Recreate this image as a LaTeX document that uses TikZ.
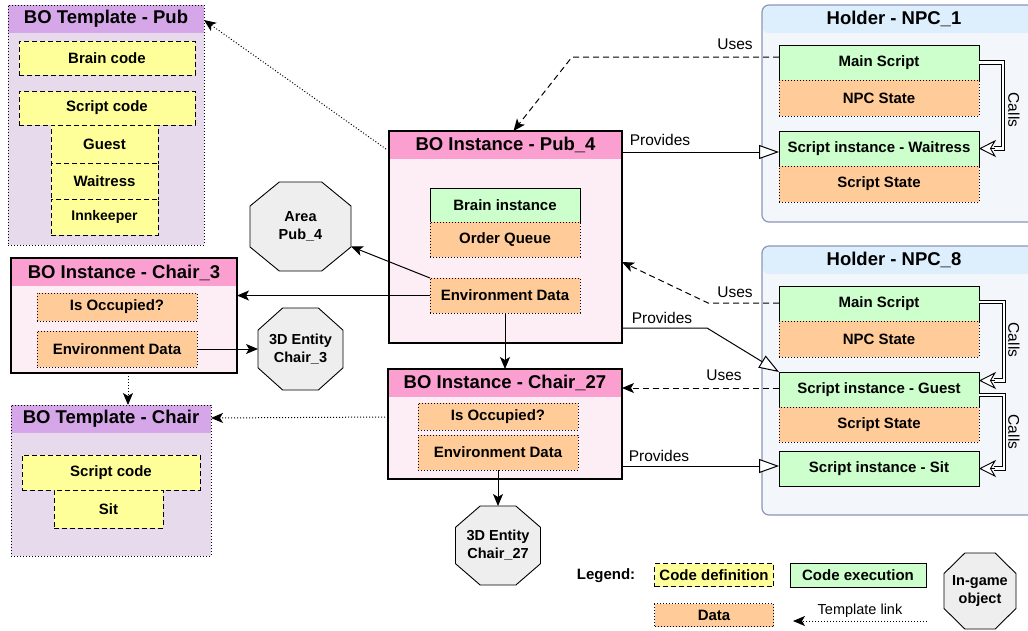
\documentclass[tikz,border=0pt]{standalone}
\usepackage{fontspec}
\setmainfont{Liberation Sans}
\usetikzlibrary{arrows.meta,calc}

\definecolor{tmplhead}{HTML}{D5A6E8}
\definecolor{tmplbody}{HTML}{E7DAEC}
\definecolor{insthead}{HTML}{FA9FD0}
\definecolor{instbody}{HTML}{FDEEF5}
\definecolor{holdhead}{HTML}{DDEEFD}
\definecolor{holdbody}{HTML}{F3F7FC}
\definecolor{holdline}{HTML}{8C96B8}
\definecolor{codefill}{HTML}{FFFF99}
\definecolor{execfill}{HTML}{CCFFCC}
\definecolor{datafill}{HTML}{FFCC99}
\definecolor{objfill}{HTML}{EEEEEE}

\tikzset{
  every node/.style={font=\fontsize{15}{17}\selectfont\bfseries, inner sep=0pt, outer sep=0pt},
  ttl/.style={font=\fontsize{18.5}{21}\selectfont\bfseries},
  lbl/.style={font=\fontsize{15.5}{18}\selectfont},
  codebox/.style={draw, fill=codefill, line width=1pt, dash pattern=on 5pt off 3pt, anchor=north west},
  execbox/.style={draw, fill=execfill, line width=1pt, anchor=north west},
  databox/.style={draw, fill=datafill, line width=1pt, dash pattern=on 1pt off 2pt, anchor=north west},
  tmplbox/.style={draw, fill=tmplbody, line width=1pt, dash pattern=on 1pt off 2pt, anchor=north west,
    path picture={\fill[tmplhead] (path picture bounding box.north west) rectangle ([yshift=-28pt]path picture bounding box.north east);}},
  instbox/.style={draw, fill=instbody, line width=2.5pt, anchor=north west,
    path picture={\fill[insthead] (path picture bounding box.north west) rectangle ([yshift=-28pt]path picture bounding box.north east);}},
  holdbox/.style={draw=holdline, fill=holdbody, line width=1.2pt, rounded corners=7pt, anchor=north west,
    path picture={\fill[holdhead] (path picture bounding box.north west) rectangle ([yshift=-28pt]path picture bounding box.north east);}},
  objline/.style={draw, fill=objfill, line width=0.9pt},
  objtext/.style={align=center, font=\fontsize{14.5}{18}\selectfont\bfseries},
  arr/.style={draw, line width=1pt, -{Stealth[length=12pt, width=10pt, inset=3pt]}},
  uses/.style={arr, dash pattern=on 6pt off 4pt},
  tlink/.style={arr, dash pattern=on 1pt off 2pt},
  provides/.style={draw, line width=1pt, -{Triangle[open, fill=white, length=20pt, width=14pt]}},
  calls/.style={draw, line width=0.9pt, double=white, double distance=2.6pt},
  callhead/.style={draw, line width=0.9pt, -{Stealth[open, fill=white, length=17pt, width=17pt, inset=5pt]}},
}

% octagonal in-game object: name, centre x, centre y, width, height, text
\newcommand\gameobject[6]{%
  \pgfmathsetmacro\gobjA{#4/2}\pgfmathsetmacro\gobjB{#5/2}%
  \pgfmathsetmacro\gobjC{#4/2-0.29*#4}\pgfmathsetmacro\gobjD{#5/2-0.27*#5}%
  \draw[objline] (#2-\gobjC,#3-\gobjB) -- (#2+\gobjC,#3-\gobjB) -- (#2+\gobjA,#3-\gobjD)
    -- (#2+\gobjA,#3+\gobjD) -- (#2+\gobjC,#3+\gobjB) -- (#2-\gobjC,#3+\gobjB)
    -- (#2-\gobjA,#3+\gobjD) -- (#2-\gobjA,#3-\gobjD) -- cycle;
  \node[objtext, minimum width=#4, minimum height=#5] (#1) at (#2,#3) {#6};
}

\begin{document}
\begin{tikzpicture}[x=1pt,y=-1pt]
\useasboundingbox (0,0) rectangle (1028,630);
\clip (0,0) rectangle (1028,630);
\fill[white] (0,0) rectangle (1028,630);

% ---------- BO Template - Pub ----------
\node[tmplbox, minimum width=196, minimum height=240] (tpub) at (8,5) {};
\node[ttl] at ($(tpub.north)+(0,14)$) {BO Template - Pub};
\node[codebox, minimum width=176, minimum height=34] (brainc) at (19,41) {Brain code};
\node[codebox, minimum width=176, minimum height=34] (scriptc) at (19,91) {Script code};
\node[codebox, minimum width=107, minimum height=38] (guestc) at (51,125) {Guest};
\node[codebox, minimum width=107, minimum height=36] (waitc) at (51,163) {Waitress};
\node[codebox, minimum width=107, minimum height=36, font=\fontsize{14}{16}\selectfont\bfseries] (innc) at (51,199) {Innkeeper};

% ---------- BO Instance - Pub_4 ----------
\node[instbox, minimum width=233, minimum height=212] (pub4) at (389,131) {};
\node[ttl] at ($(pub4.north)+(0,14)$) {BO Instance - Pub\_4};
\node[execbox, minimum width=150, minimum height=34] (brain4) at (430,188) {Brain instance};
\node[databox, minimum width=150, minimum height=35] (queue4) at (430,222) {Order Queue};
\node[databox, minimum width=150, minimum height=35] (env4) at (430,278) {Environment Data};

% ---------- BO Instance - Chair_3 ----------
\node[instbox, minimum width=226, minimum height=115] (c3) at (11,258) {};
\node[ttl] at ($(c3.north)+(0,14.5)$) {BO Instance - Chair\_3};
\node[databox, minimum width=160, minimum height=28] (occ3) at (37,293) {Is Occupied?};
\node[databox, minimum width=160, minimum height=36] (env3) at (37,331) {Environment Data};

% ---------- BO Template - Chair ----------
\node[tmplbox, minimum width=200, minimum height=151] (tchair) at (11,405) {};
\node[ttl] at ($(tchair.north)+(0,14)$) {BO Template - Chair};
\node[codebox, minimum width=178, minimum height=35] (scriptc2) at (22,455) {Script code};
\node[codebox, minimum width=109, minimum height=38] (sitc) at (54,490) {Sit};

% ---------- BO Instance - Chair_27 ----------
\node[instbox, minimum width=234, minimum height=110] (c27) at (388,369) {};
\node[ttl] at ($(c27.north)+(0,14)$) {BO Instance - Chair\_27};
\node[databox, minimum width=160, minimum height=27] (occ27) at (418,403) {Is Occupied?};
\node[databox, minimum width=160, minimum height=35] (env27) at (418,435) {Environment Data};

% ---------- Holder - NPC_1 ----------
\node[holdbox, minimum width=290, minimum height=217] (h1) at (762,5) {};
\node[ttl] at (894,19) {Holder - NPC\_1};
\node[execbox, minimum width=200, minimum height=35] (ms1) at (779,45) {Main Script};
\node[databox, minimum width=200, minimum height=36] (npc1) at (779,80) {NPC State};
\node[execbox, minimum width=200, minimum height=35] (sw) at (779,131) {Script instance - Waitress};
\node[databox, minimum width=200, minimum height=36] (sst1) at (779,166) {Script State};

% ---------- Holder - NPC_8 ----------
\node[holdbox, minimum width=290, minimum height=269] (h8) at (762,246) {};
\node[ttl] at (894,260) {Holder - NPC\_8};
\node[execbox, minimum width=200, minimum height=35] (ms8) at (779,286) {Main Script};
\node[databox, minimum width=200, minimum height=36] (npc8) at (779,321) {NPC State};
\node[execbox, minimum width=200, minimum height=35] (sg) at (779,372) {Script instance - Guest};
\node[databox, minimum width=200, minimum height=35] (sst8) at (779,407) {Script State};
\node[execbox, minimum width=200, minimum height=35] (sit) at (779,451) {Script instance - Sit};

% ---------- in-game objects ----------
\gameobject{area}{300.5}{226.5}{101}{89}{Area\\Pub\_4}
\gameobject{e3}{300.5}{349}{85}{82}{3D Entity\\Chair\_3}
\gameobject{e27}{498}{545.5}{85}{79}{3D Entity\\Chair\_27}
\coordinate (areahit) at ($(area.east)+(0,20)$);

% ---------- template links ----------
\draw[tlink] ([shift={(-3,18)}]pub4.north west) -- ([shift={(0,15)}]tpub.north east);
\draw[tlink] ([shift={(0,48)}]c27.north west) -- ([shift={(0,13)}]tchair.north east);
\draw[tlink] ([xshift=4pt]c3.south) -- ([xshift=4pt]c3.south |- tchair.north);

% ---------- data flow ----------
\draw[arr] (env4.north west) -- (areahit);
\draw[arr] (env4.west) -- (env4.west -| c3.east);
\draw[arr] (env3.east) -- (env3.east -| e3.west);
\draw[arr] (env4.south) -- (c27.north);
\draw[arr] (env27.south) -- (env27.south |- e27.north);

% ---------- uses ----------
\draw[uses] (ms1.west |- 0,57) -- (572,57) -- ([xshift=8pt]pub4.north);
\node[lbl] at (735,44) {Uses};
\draw[uses] (ms8.west |- 0,303) -- (708,303) -- ([shift={(0,25)}]pub4.east);
\node[lbl] at (735,292) {Uses};
\draw[uses] (sg.west |- 0,388) -- (sg.west |- 0,388 -| c27.east);
\node[lbl] at (724,375) {Uses};

% ---------- provides ----------
\draw[provides] (pub4.east |- 0,152) -- (sw.west |- 0,152);
\node[lbl] at (660,140) {Provides};
\draw[provides] (pub4.east |- 0,328) -- (707,328) -- (sg.north west);
\node[lbl] at (662,318) {Provides};
\draw[provides] (c27.east |- 0,466) -- (sit.west |- 0,466);
\node[lbl] at (659,456) {Provides};

% ---------- calls ----------
\draw[calls] (ms1.east) -- ++(24,0) |- ([xshift=15pt]sw.east);
\draw[callhead] ([xshift=16pt]sw.east) -- (sw.east);
\node[lbl, rotate=-90] at (1014,110) {Calls};
\draw[calls] (ms8.east |- 0,302) -- ++(25,0) |- ([shift={(15,-9)}]sg.east);
\draw[callhead] ([shift={(16,-9)}]sg.east) -- ([shift={(0,-9)}]sg.east);
\node[lbl, rotate=-90] at (1014,340) {Calls};
\draw[calls] (sg.east |- 0,395) -- ++(25,0) |- ([xshift=15pt]sit.east);
\draw[callhead] ([xshift=16pt]sit.east) -- (sit.east);
\node[lbl, rotate=-90] at (1014,432) {Calls};

% ---------- legend ----------
\node at (606,576) {Legend:};
\node[codebox, minimum width=119, minimum height=23, anchor=center] (lgcode) at (714,575) {Code definition};
\node[execbox, minimum width=136, minimum height=24, anchor=center] (lgexec) at (858,575) {Code execution};
\node[databox, minimum width=119, minimum height=23, anchor=center] (lgdata) at (714,615) {Data};
\coordinate (lgfrom) at (927,621);
\coordinate (lgto) at (793,621);
\draw[tlink] (lgfrom) -- (lgto);
\node[lbl, font=\fontsize{14.5}{17}\selectfont] at (860,611) {Template link};
\gameobject{lgobj}{980}{591}{72}{76}{In-game\\object}
\end{tikzpicture}
\end{document}
